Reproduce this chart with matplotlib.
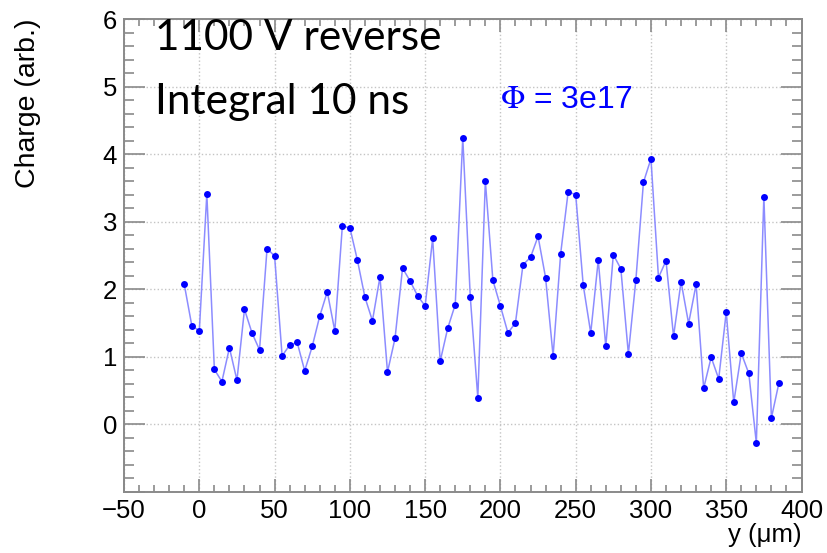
import numpy as np
import matplotlib
matplotlib.use("Agg")
import matplotlib.pyplot as plt
from matplotlib.ticker import MultipleLocator, FuncFormatter

# position along y (um) and integrated charge
pos_um = np.arange(-10, 386, 5)
charge = [2.07, 1.46, 1.38, 3.41, 0.81, 0.63, 1.13, 0.65, 1.70, 1.35,
          1.10, 2.60, 2.49, 1.01, 1.17, 1.21, 0.79, 1.15, 1.60, 1.96,
          1.38, 2.93, 2.91, 2.43, 1.88, 1.53, 2.18, 0.77, 1.27, 2.31,
          2.12, 1.90, 1.75, 2.75, 0.93, 1.42, 1.77, 4.24, 1.88, 0.39,
          3.60, 2.13, 1.75, 1.35, 1.50, 2.36, 2.47, 2.78, 2.17, 1.01,
          2.52, 3.44, 3.40, 2.06, 1.35, 2.43, 1.15, 2.51, 2.30, 1.04,
          2.14, 3.58, 3.93, 2.17, 2.42, 1.30, 2.11, 1.49, 2.07, 0.53,
          0.99, 0.67, 1.66, 0.32, 1.05, 0.75, -0.28, 3.37, 0.09, 0.61]

plt.rcParams['font.family'] = ['Liberation Sans', 'DejaVu Sans']

fig = plt.figure(figsize=(8.28, 5.53), dpi=100)
ax = fig.add_axes([0.1498, 0.111, 0.8182, 0.8546])

ax.plot(pos_um, charge, '-', color='#8c8cff', lw=1.1, zorder=2)
ax.plot(pos_um, charge, 'o', color='#0000ff', ms=5, mec='none', zorder=3)

ax.set_xlim(-50, 400)
ax.set_ylim(-1, 6)
ax.xaxis.set_major_locator(MultipleLocator(50))
ax.xaxis.set_minor_locator(MultipleLocator(10))
ax.yaxis.set_major_locator(MultipleLocator(1))
ax.yaxis.set_minor_locator(MultipleLocator(0.2))
# bottom y label is left off, like ROOT does
ax.yaxis.set_major_formatter(FuncFormatter(
    lambda v, p: '' if v < -0.5 else '%d' % round(v)))

frame = '#8a8a8a'
for s in ax.spines.values():
    s.set_color(frame)
    s.set_linewidth(1.4)
ax.tick_params(which='both', direction='in', top=True, right=True,
               color=frame, width=1.2, labelsize=18.5, labelcolor='black')
ax.tick_params(axis='x', which='major', length=9.4, pad=5)
ax.tick_params(axis='x', which='minor', length=4.8)
ax.tick_params(axis='y', which='major', length=15, pad=5)
ax.tick_params(axis='y', which='minor', length=7.5)

ax.grid(True, which='major', color='#c4c4c4', ls=':', lw=1.0)
ax.set_axisbelow(True)

ax.set_xlabel('y (\u03bcm)', fontsize=18.5, loc='right', labelpad=0)
fig.text(28 / 828, 1 - 18 / 553, 'Charge (arb.)', rotation=90,
         ha='center', va='top', fontsize=20.5)

ax.text(0.045, 0.935, '1100 V reverse', transform=ax.transAxes,
        fontsize=30.5, family=['Lato', 'DejaVu Sans'], va='baseline')
ax.text(0.045, 0.7995, 'Integral 10 ns', transform=ax.transAxes,
        fontsize=30.5, family=['Lato', 'DejaVu Sans'], va='baseline')
ax.text(0.555, 0.8115, '$\\Phi$ = 3e17', transform=ax.transAxes,
        fontsize=23, color='#0000ff', va='baseline', math_fontfamily='stix')

fig.savefig('out.png', dpi=100)
